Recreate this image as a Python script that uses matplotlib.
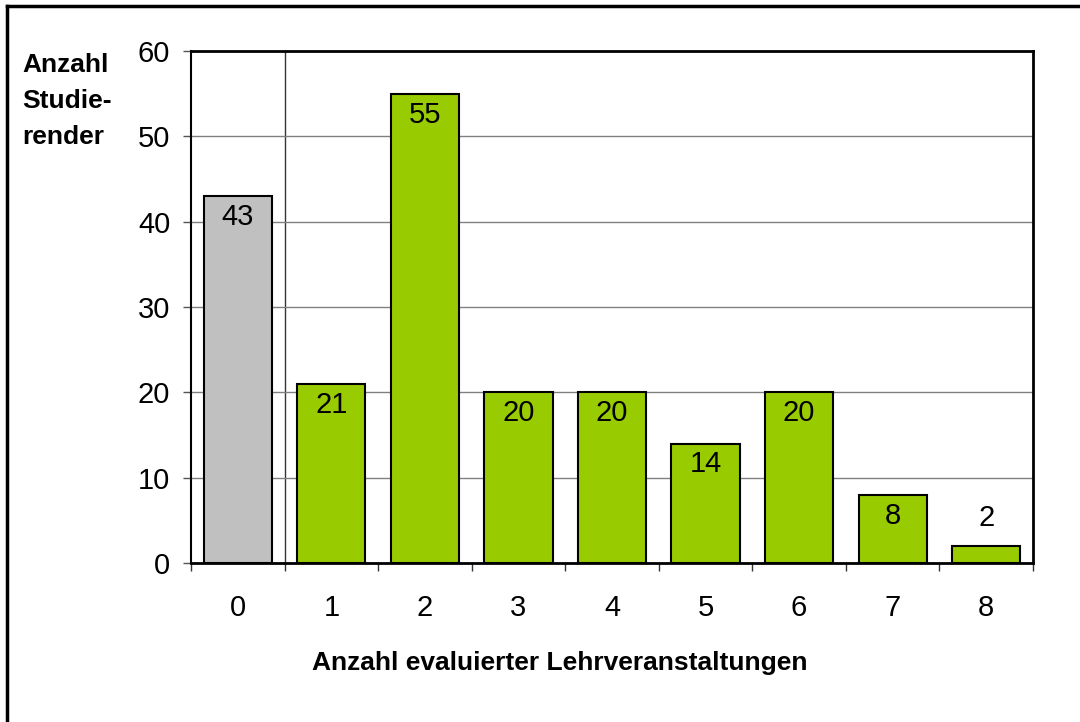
import matplotlib.pyplot as plt
from matplotlib.lines import Line2D

plt.rcParams['font.family'] = ['Liberation Sans', 'DejaVu Sans']

# data
categories = ['0', '1', '2', '3', '4', '5', '6', '7', '8']
counts = [43, 21, 55, 20, 20, 14, 20, 8, 2]
bar_colors = ['#C0C0C0'] + ['#99CC00'] * 8

fig = plt.figure(figsize=(10.8, 7.22), dpi=100)
ax = fig.add_axes([191 / 1080, 1 - 563 / 722, (1033 - 191) / 1080, (563 - 51) / 722])

x = list(range(len(categories)))
bars = ax.bar(x, counts, width=0.73, color=bar_colors, edgecolor='black', linewidth=1.5, zorder=3)

# value labels: inside the bar near its top, above it if the bar is too short
for xi, v in zip(x, counts):
    if v >= 5:
        ax.annotate(str(v), (xi, v), xytext=(0, -5), textcoords='offset points',
                    ha='center', va='top', fontsize=21, zorder=4)
    else:
        ax.annotate(str(v), (xi, v), xytext=(0, 10), textcoords='offset points',
                    ha='center', va='bottom', fontsize=21, zorder=4)

ax.set_xlim(-0.5, 8.5)
ax.set_ylim(0, 60)
ax.set_yticks(range(0, 61, 10))
ax.set_xticks(x)
ax.set_xticklabels(categories)
ax.set_xticks([i + 0.5 for i in range(-1, 9)], minor=True)
ax.tick_params(axis='x', which='major', length=0, pad=22, labelsize=21)
ax.tick_params(axis='x', which='minor', length=6, width=1, direction='out', color='#333333')
ax.tick_params(axis='y', length=6, width=1, direction='out', pad=9, labelsize=21, color='#555555')

ax.yaxis.grid(True, color='#808080', linewidth=1, zorder=0)
ax.axvline(0.5, color='#333333', linewidth=1, zorder=1)

for side in ['top', 'right', 'bottom']:
    ax.spines[side].set_linewidth(2)
ax.spines['left'].set_linewidth(1.5)

fig.text(22 / 1080, 1 - 53 / 722, 'Anzahl\nStudie-\nrender', fontsize=19, fontweight='bold',
         ha='left', va='top', linespacing=1.63)
fig.text(560 / 1080, 1 - 663 / 722, 'Anzahl evaluierter Lehrveranstaltungen', fontsize=19,
         fontweight='bold', ha='center', va='center')

# frame of the chart area: only the top and left edges are visible
fig.add_artist(Line2D([7 / 1080, 1], [1 - 6 / 722, 1 - 6 / 722], transform=fig.transFigure,
                      color='black', linewidth=2.5))
fig.add_artist(Line2D([7 / 1080, 7 / 1080], [0, 1 - 6 / 722], transform=fig.transFigure,
                      color='black', linewidth=2.5))

fig.savefig('out.png', dpi=100)
